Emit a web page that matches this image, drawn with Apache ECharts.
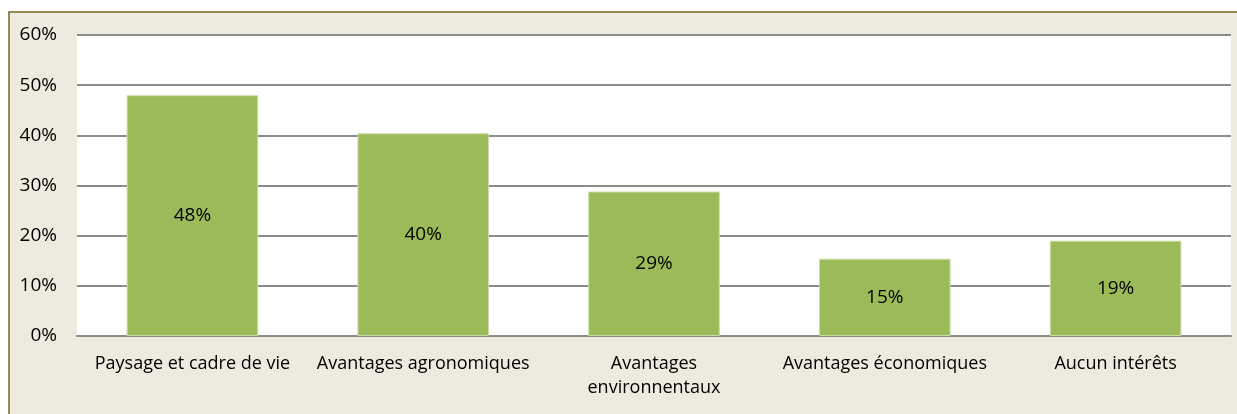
<!DOCTYPE html>
<html><head><meta charset="utf-8">
<script src="https://cdn.jsdelivr.net/npm/echarts@6/dist/echarts.min.js"></script>
<style>
html,body{margin:0;padding:0;background:#fff;}
#bg{position:absolute;left:8px;top:11px;width:1229px;height:403px;background:#EDEAE0;border-left:2px solid #948A54;border-top:2px solid #948A54;box-sizing:border-box;}
#chart{position:absolute;left:0;top:0;width:1237px;height:414px;}
</style></head>
<body>
<div id="bg"></div>
<div id="chart"></div>
<script>
const categories = ["Paysage et cadre de vie", "Avantages agronomiques", "Avantages\nenvironnentaux", "Avantages économiques", "Aucun intérêts"];
const values = [0.48, 0.404, 0.288, 0.154, 0.19];
const yTicks = [0, 0.1, 0.2, 0.3, 0.4, 0.5, 0.6];

const chart = echarts.init(document.getElementById('chart'), null, {renderer: 'canvas'});
const font = "'Open Sans', 'Noto Sans', sans-serif";
chart.setOption({
  backgroundColor: 'transparent',
  animation: false,
  grid: {left: 77, right: 6, top: 35, bottom: 78, show: true, backgroundColor: '#fff', borderWidth: 0},
  xAxis: {
    type: 'category',
    data: categories,
    axisLine: {lineStyle: {color: '#8c8c8c', width: 2}},
    axisTick: {show: false},
    axisLabel: {interval: 0, color: '#000', fontFamily: font, fontSize: 18, margin: 16, lineHeight: 24}
  },
  yAxis: {
    type: 'value',
    min: yTicks[0], max: yTicks[yTicks.length - 1], interval: 0.1,
    axisLine: {show: false},
    axisTick: {show: false},
    splitLine: {lineStyle: {color: '#8c8c8c', width: 2}},
    axisLabel: {color: '#000', fontFamily: font, fontSize: 19, margin: 20,
      formatter: v => Math.round(v * 100) + '%'}
  },
  series: [{
    type: 'bar',
    data: values,
    barWidth: '57%',
    itemStyle: {color: '#9BBB59', borderColor: '#C9DCA6', borderWidth: 1},
    label: {show: true, position: 'inside', color: '#000', fontFamily: font, fontSize: 19,
      formatter: p => Math.round(p.value * 100) + '%'}
  }]
});
</script>
</body></html>
